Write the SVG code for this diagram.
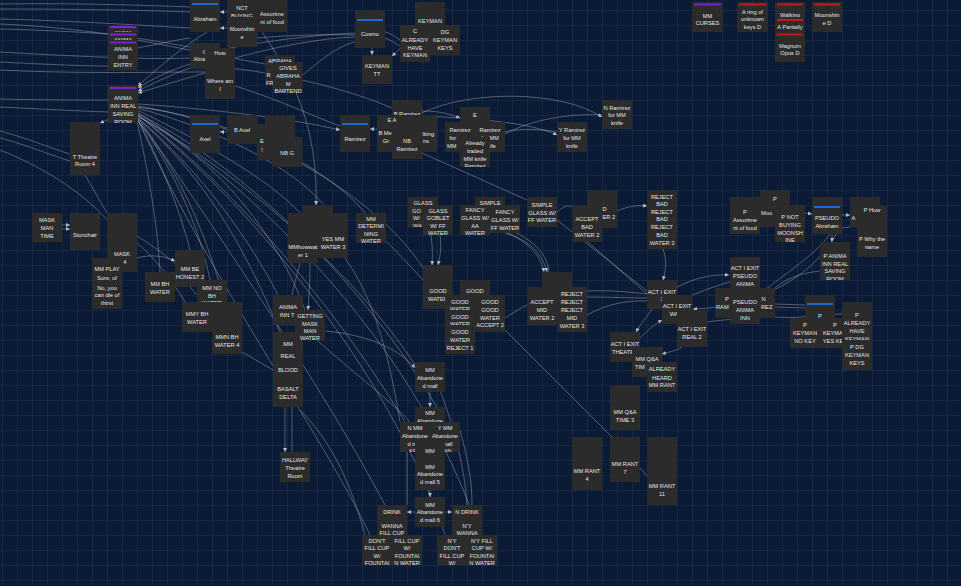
<svg xmlns="http://www.w3.org/2000/svg" width="961" height="586" viewBox="0 0 961 586">
<style>
.n{fill:#2b2b2b}
.t{font-family:"Liberation Sans","Open Sans",sans-serif;font-size:5.7px;fill:#e4e4e4;text-anchor:middle}
.s{text-anchor:start}
.bb{fill:#1e6ad2}
.bp{fill:#7a22cc}
.br{fill:#c8161d}
.c{fill:none;stroke:#b5bac4;stroke-opacity:.55;stroke-width:.75}
.a{marker-end:url(#ar)}
</style>
<defs>
<pattern id="grid" x="2" y="10" width="15" height="15" patternUnits="userSpaceOnUse"><path d="M0 0.3H15M0.3 0V15" fill="none" stroke="#1b3058" stroke-width="0.6"/></pattern>
<marker id="ar" viewBox="0 0 6 6" refX="6" refY="3" markerWidth="4" markerHeight="4" orient="auto" markerUnits="userSpaceOnUse"><path d="M0 0L6 3L0 6z" fill="#b5bac4"/></marker>
</defs>
<rect width="961" height="586" fill="#0b1a35"/>
<rect width="961" height="586" fill="url(#grid)"/>
<g id="connectors">
<path class="c" d="M0 4 C70 3 140 5 190 7"/>
<path class="c" d="M0 9 C70 9 140 10 190 12"/>
<path class="c" d="M0 19 C80 21 150 26 190 28"/>
<path class="c" d="M0 24 C70 27 140 38 190 47"/>
<path class="c" d="M0 29 C40 30 80 32 108 34"/>
<path class="c" d="M0 52 C70 56 150 60 190 58"/>
<path class="c" d="M0 62 C40 64 80 66 108 66"/>
<path class="c" d="M0 70 C80 74 160 72 205 72"/>
<path class="c" d="M0 99 C40 100 80 100 108 100"/>
<path class="c" d="M0 107 C40 109 80 111 108 112"/>
<path class="c" d="M0 131 C30 139 50 148 70 154"/>
<path class="c" d="M0 138 C30 146 50 155 70 161"/>
<path class="c" d="M0 150 C50 170 85 195 110 223"/>
<path class="c" d="M85 175 L107 213"/>
<path class="c" d="M137 48 C160 44 175 40 190 38"/>
<path class="c" d="M137 40 C180 48 230 58 265 64"/>
<path class="c a" d="M190 64 C170 70 150 80 138 88"/>
<path class="c a" d="M190 68 C170 75 152 84 138 91"/>
<path class="c a" d="M205 73 C180 80 155 88 138 93"/>
<path class="c a" d="M207 32 C185 45 155 70 138 86"/>
<path class="c a" d="M112 118 L100 123"/>
<path class="c" d="M220 50 C260 42 310 35 355 33"/>
<path class="c" d="M235 58 C270 48 320 38 355 37"/>
<path class="c" d="M257 38 C290 35 330 34 355 35"/>
<path class="c" d="M303 75 C320 60 340 45 355 42"/>
<path class="c" d="M385 32 C392 34 396 37 400 40"/>
<path class="c" d="M385 38 C392 41 396 44 400 46"/>
<path class="c a" d="M372 48 L372 55"/>
<path class="c a" d="M402 47 L392 56"/>
<path class="c a" d="M227 12 L220 12"/>
<path class="c a" d="M227 28 L220 28"/>
<path class="c a" d="M227 132 L220 132"/>
<path class="c" d="M235 86 C280 100 310 115 340 126"/>
<path class="c a" d="M138 104 C200 108 290 118 340 130"/>
<path class="c" d="M230 68 C290 75 350 90 392 108"/>
<path class="c" d="M422 153 C460 170 500 188 527 200"/>
<path class="c a" d="M377 129 L370 129"/>
<path class="c a" d="M422 111 C440 111 450 114 460 118"/>
<path class="c a" d="M422 113 C470 90 560 90 602 117"/>
<path class="c a" d="M422 116 C470 118 530 122 557 135"/>
<path class="c" d="M505 134 C530 120 570 113 602 115"/>
<path class="c" d="M505 132 C520 128 540 129 557 132"/>
<path class="c a" d="M262 32 C295 80 318 130 316 205"/>
<path class="c" d="M137 110 C200 140 270 180 300 213"/>
<path class="c" d="M137 108 C220 130 300 170 330 213"/>
<path class="c" d="M137 107 C240 120 330 170 365 213"/>
<path class="c" d="M137 106 C260 125 380 200 423 268"/>
<path class="c" d="M137 118 C160 160 180 210 190 250"/>
<path class="c" d="M137 119 C175 170 200 230 210 280"/>
<path class="c" d="M137 120 C185 175 210 250 225 302"/>
<path class="c" d="M137 117 C200 170 250 240 278 295"/>
<path class="c" d="M137 118 C210 180 250 260 280 332"/>
<path class="c" d="M137 116 C220 160 280 240 305 310"/>
<path class="c" d="M137 115 C250 180 360 280 415 365"/>
<path class="c" d="M137 114 C250 200 350 330 405 422"/>
<path class="c" d="M137 113 C270 180 390 320 445 422"/>
<path class="c" d="M137 116 C230 250 330 400 385 505"/>
<path class="c" d="M137 118 C210 280 320 430 370 535"/>
<path class="c" d="M137 114 C280 230 400 400 445 535"/>
<path class="c" d="M137 112 C300 220 430 380 480 535"/>
<path class="c" d="M137 121 C150 180 158 230 160 272"/>
<path class="c a" d="M62 225 L70 225"/>
<path class="c a" d="M62 229 L70 229"/>
<path class="c a" d="M137 258 C150 254 165 256 175 261"/>
<path class="c" d="M137 236 C160 250 185 270 197 285"/>
<path class="c" d="M137 243 C155 258 172 280 185 302"/>
<path class="c" d="M190 287 L198 296"/>
<path class="c" d="M242 352 L273 370"/>
<path class="c" d="M300 263 C297 275 294 285 292 295"/>
<path class="c a" d="M310 263 C310 280 309 295 308 310"/>
<path class="c a" d="M325 331 C370 335 400 350 415 368"/>
<path class="c a" d="M285 407 L285 452"/>
<path class="c" d="M292 407 L292 452"/>
<path class="c" d="M345 258 C375 300 390 360 400 422"/>
<path class="c" d="M317 340 C350 370 390 400 410 422"/>
<path class="c" d="M300 410 C330 440 350 480 365 535"/>
<path class="c a" d="M430 392 L430 407"/>
<path class="c a" d="M430 490 L430 497"/>
<path class="c a" d="M415 512 L407 512"/>
<path class="c a" d="M445 512 L452 512"/>
<path class="c" d="M407 452 L407 505"/>
<path class="c" d="M460 430 C468 460 472 480 472 505"/>
<path class="c" d="M440 390 C455 430 465 470 467 505"/>
<path class="c a" d="M430 227 C432 240 433 252 432 265"/>
<path class="c a" d="M440 235 C442 248 440 256 438 265"/>
<path class="c" d="M385 240 C400 255 412 268 423 280"/>
<path class="c a" d="M490 226 C520 236 540 250 544 272"/>
<path class="c a" d="M505 233 C530 240 543 255 547 272"/>
<path class="c" d="M512 231 C535 241 548 256 549 272"/>
<path class="c" d="M557 212 C564 206 568 205 572 207"/>
<path class="c" d="M557 220 L647 291"/>
<path class="c" d="M588 242 L647 294"/>
<path class="c a" d="M617 211 C628 206 638 205 647 206"/>
<path class="c a" d="M663 249 C667 260 666 270 663 280"/>
<path class="c" d="M587 291 C610 290 630 292 647 294"/>
<path class="c" d="M587 297 C610 297 630 298 647 298"/>
<path class="c" d="M587 315 C605 305 625 300 647 301"/>
<path class="c" d="M505 318 C515 312 520 308 527 305"/>
<path class="c" d="M505 330 L612 437"/>
<path class="c" d="M640 468 L647 476"/>
<path class="c a" d="M677 287 C695 278 712 274 729 275"/>
<path class="c" d="M690 296 C705 290 718 285 730 282"/>
<path class="c a" d="M730 306 C715 307 702 309 693 309"/>
<path class="c" d="M760 318 C740 318 722 320 707 322"/>
<path class="c a" d="M652 309 C646 318 640 325 636 332"/>
<path class="c a" d="M640 338 C648 330 655 324 662 320"/>
<path class="c a" d="M682 347 C676 351 669 352 662 354"/>
<path class="c" d="M820 271 C800 273 782 280 773 290"/>
<path class="c" d="M830 234 C815 255 790 270 765 290"/>
<path class="c" d="M836 234 C822 260 797 280 769 292"/>
<path class="c a" d="M832 234 L832 242"/>
<path class="c a" d="M805 213 L812 214"/>
<path class="c a" d="M842 215 L850 215"/>
<path class="c" d="M857 226 L842 228"/>
<path class="c" d="M775 304 L805 305"/>
<path class="c" d="M775 307 L805 308"/>
<path class="c" d="M775 317 C800 319 820 314 842 314"/>
</g>
<g id="n-abraham"><svg x="190" y="-6" width="30" height="38" viewBox="190 -6 30 38"><rect class="n" x="190" y="-6" width="30" height="38"/><rect class="bb" x="192" y="3" width="26" height="2"/><text class="t" x="205" y="21">Abraham</text></svg></g>
<g id="n-nct"><svg x="227" y="-13" width="30" height="30" viewBox="227 -13 30 30"><rect class="n" x="227" y="-13" width="30" height="30"/><text class="t" x="242" y="10">NCT</text><text class="t" x="242" y="18">BUYING</text></svg></g>
<g id="n-moonshine"><svg x="227" y="17" width="30" height="30" viewBox="227 17 30 30"><rect class="n" x="227" y="17" width="30" height="30"/><text class="t" x="242" y="31">Moonshin</text><text class="t" x="242" y="39">e</text></svg></g>
<g id="n-assort"><svg x="257" y="-6" width="30" height="38" viewBox="257 -6 30 38"><rect class="n" x="257" y="-6" width="30" height="38"/><text class="t" x="272" y="16">Assortme</text><text class="t" x="272" y="24">nt of food</text></svg></g>
<g id="n-ae1"><svg x="108" y="25" width="30" height="30" viewBox="108 25 30 30"><rect class="n" x="108" y="25" width="30" height="30"/><rect class="bp" x="110" y="26" width="26" height="2"/><text class="t" x="123" y="35">ANIMA</text></svg></g>
<g id="n-ae2"><svg x="108" y="32" width="30" height="30" viewBox="108 32 30 30"><rect class="n" x="108" y="32" width="30" height="30"/><rect class="bp" x="110" y="33.5" width="26" height="2"/><text class="t" x="123" y="42">ANIMA</text></svg></g>
<g id="n-ae3"><svg x="108" y="40" width="30" height="30" viewBox="108 40 30 30"><rect class="n" x="108" y="40" width="30" height="30"/><rect class="bp" x="110" y="41.5" width="26" height="2"/><text class="t" x="123" y="51">ANIMA</text><text class="t" x="123" y="59">INN</text><text class="t" x="123" y="67">ENTRY</text></svg></g>
<g id="n-anima-real"><svg x="108" y="85" width="30" height="38" viewBox="108 85 30 38"><rect class="n" x="108" y="85" width="30" height="38"/><rect class="bp" x="110" y="87" width="26" height="2"/><text class="t" x="123" y="100">ANIMA</text><text class="t" x="123" y="108">INN REAL</text><text class="t" x="123" y="116">SAVING</text><text class="t" x="123" y="124">ROOM</text></svg></g>
<g id="n-ttheatre"><svg x="70" y="122" width="30" height="53" viewBox="70 122 30 53"><rect class="n" x="70" y="122" width="30" height="53"/><text class="t" x="85" y="159">T Theatre</text><text class="t" x="85" y="166">Room 4</text></svg></g>
<g id="n-cabra"><svg x="190" y="43" width="30" height="26" viewBox="190 43 30 26"><rect class="n" x="190" y="43" width="30" height="26"/><text class="t" x="205" y="54">C</text><text class="t" x="205" y="61">Abraham</text></svg></g>
<g id="n-how"><svg x="205" y="48" width="30" height="30" viewBox="205 48 30 30"><rect class="n" x="205" y="48" width="30" height="30"/><text class="t" x="220" y="55">How</text></svg></g>
<g id="n-where"><svg x="205" y="63" width="30" height="36" viewBox="205 63 30 36"><rect class="n" x="205" y="63" width="30" height="36"/><text class="t" x="220" y="83">Where am</text><text class="t" x="220" y="91">I</text></svg></g>
<g id="n-abrahar"><svg x="265" y="55" width="30" height="30" viewBox="265 55 30 30"><rect class="n" x="265" y="55" width="30" height="30"/><text class="t" x="280" y="63">ABRAHA</text><text class="t s" x="266.5" y="77">R</text><text class="t s" x="266" y="85">FR</text></svg></g>
<g id="n-gives"><svg x="273" y="62" width="30" height="31" viewBox="273 62 30 31"><rect class="n" x="273" y="62" width="30" height="31"/><text class="t" x="288" y="70">GIVES</text><text class="t" x="288" y="78">ABRAHA</text><text class="t" x="288" y="86">M</text><text class="t" x="288" y="93">BARTEND</text></svg></g>
<g id="n-axel"><svg x="190" y="115" width="30" height="38" viewBox="190 115 30 38"><rect class="n" x="190" y="115" width="30" height="38"/><rect class="bb" x="192" y="123" width="26" height="2"/><text class="t" x="205" y="141">Axel</text></svg></g>
<g id="n-baxel"><svg x="227" y="115" width="30" height="29" viewBox="227 115 30 29"><rect class="n" x="227" y="115" width="30" height="29"/><text class="t" x="242" y="132">B Axel</text></svg></g>
<g id="n-hid1"><svg x="265" y="115" width="30" height="30" viewBox="265 115 30 30"><rect class="n" x="265" y="115" width="30" height="30"/></svg></g>
<g id="n-e1"><svg x="257" y="124" width="30" height="36" viewBox="257 124 30 36"><rect class="n" x="257" y="124" width="30" height="36"/><text class="t" x="262" y="143">E</text><text class="t" x="262" y="152">!</text></svg></g>
<g id="n-nbg"><svg x="272" y="137" width="30" height="30" viewBox="272 137 30 30"><rect class="n" x="272" y="137" width="30" height="30"/><text class="t" x="287" y="155">NB G</text></svg></g>
<g id="n-cosmo"><svg x="355" y="10" width="30" height="38" viewBox="355 10 30 38"><rect class="n" x="355" y="10" width="30" height="38"/><rect class="bb" x="357" y="19" width="26" height="2"/><text class="t" x="370" y="36">Cosmo</text></svg></g>
<g id="n-keyman"><svg x="415" y="2" width="30" height="30" viewBox="415 2 30 30"><rect class="n" x="415" y="2" width="30" height="30"/><text class="t" x="430" y="23">KEYMAN</text></svg></g>
<g id="n-calready"><svg x="400" y="25" width="30" height="37" viewBox="400 25 30 37"><rect class="n" x="400" y="25" width="30" height="37"/><text class="t" x="415" y="33">C</text><text class="t" x="415" y="42">ALREADY</text><text class="t" x="415" y="50">HAVE</text><text class="t" x="415" y="57">KEYMAN</text></svg></g>
<g id="n-dg"><svg x="430" y="25" width="30" height="30" viewBox="430 25 30 30"><rect class="n" x="430" y="25" width="30" height="30"/><text class="t" x="445" y="34">DG</text><text class="t" x="445" y="42">KEYMAN</text><text class="t" x="445" y="50">KEYS</text></svg></g>
<g id="n-keymantt"><svg x="362" y="55" width="30" height="29" viewBox="362 55 30 29"><rect class="n" x="362" y="55" width="30" height="29"/><text class="t" x="377" y="68">KEYMAN</text><text class="t" x="377" y="76">TT</text></svg></g>
<g id="n-ramirez"><svg x="340" y="115" width="30" height="37" viewBox="340 115 30 37"><rect class="n" x="340" y="115" width="30" height="37"/><rect class="bb" x="342" y="123" width="26" height="2"/><text class="t" x="355" y="141">Ramirez</text></svg></g>
<g id="n-bramirez"><svg x="392" y="100" width="30" height="30" viewBox="392 100 30 30"><rect class="n" x="392" y="100" width="30" height="30"/><text class="t" x="407" y="116">B Ramirez</text></svg></g>
<g id="n-ea"><svg x="377" y="115" width="30" height="37" viewBox="377 115 30 37"><rect class="n" x="377" y="115" width="30" height="37"/><text class="t" x="392" y="122">E A</text><text class="t s" x="378.5" y="135">B Me</text><text class="t" x="386" y="143">Gr</text></svg></g>
<g id="n-walk"><svg x="407" y="115" width="30" height="37" viewBox="407 115 30 37"><rect class="n" x="407" y="115" width="30" height="37"/><text class="t s" x="422.5" y="136">lking</text><text class="t s" x="423" y="143">ns</text></svg></g>
<g id="n-nbramirez"><svg x="392" y="128" width="30" height="31" viewBox="392 128 30 31"><rect class="n" x="392" y="128" width="30" height="31"/><text class="t" x="407" y="143">NB</text><text class="t" x="407" y="151">Ramirez</text></svg></g>
<g id="n-e2"><svg x="460" y="107" width="30" height="30" viewBox="460 107 30 30"><rect class="n" x="460" y="107" width="30" height="30"/><text class="t" x="475" y="117">E</text></svg></g>
<g id="n-rfm1"><svg x="445" y="122" width="30" height="30" viewBox="445 122 30 30"><rect class="n" x="445" y="122" width="30" height="30"/><text class="t" x="460" y="132">Ramirez</text><text class="t s" x="449.5" y="140">for</text><text class="t s" x="447" y="148">MM</text></svg></g>
<g id="n-rfm2"><svg x="475" y="122" width="30" height="30" viewBox="475 122 30 30"><rect class="n" x="475" y="122" width="30" height="30"/><text class="t" x="490" y="132">Ramirez</text><text class="t" x="490" y="140">for MM</text><text class="t" x="490" y="148">knife</text></svg></g>
<g id="n-already"><svg x="460" y="137" width="30" height="30" viewBox="460 137 30 30"><rect class="n" x="460" y="137" width="30" height="30"/><text class="t" x="475" y="145">Already</text><text class="t" x="475" y="153">traded</text><text class="t" x="475" y="161">MM knife</text><text class="t" x="475" y="168">Ramirez</text></svg></g>
<g id="n-yram"><svg x="557" y="122" width="30" height="30" viewBox="557 122 30 30"><rect class="n" x="557" y="122" width="30" height="30"/><text class="t" x="572" y="132">Y Ramirez</text><text class="t" x="572" y="140">for MM</text><text class="t" x="572" y="148">knife</text></svg></g>
<g id="n-nram"><svg x="602" y="100" width="30" height="29" viewBox="602 100 30 29"><rect class="n" x="602" y="100" width="30" height="29"/><text class="t" x="617" y="110">N Ramirez</text><text class="t" x="617" y="117">for MM</text><text class="t" x="617" y="125">knife</text></svg></g>
<g id="n-mmcurses"><svg x="692" y="2" width="31" height="30" viewBox="692 2 31 30"><rect class="n" x="692" y="2" width="31" height="30"/><rect class="bp" x="694" y="3.5" width="27" height="2"/><text class="t" x="707.5" y="18">MM</text><text class="t" x="707.5" y="25">CURSES</text></svg></g>
<g id="n-ring"><svg x="737" y="2" width="31" height="30" viewBox="737 2 31 30"><rect class="n" x="737" y="2" width="31" height="30"/><rect class="br" x="739" y="3.5" width="27" height="2"/><text class="t" x="752.5" y="14">A ring of</text><text class="t" x="752.5" y="21">unknown</text><text class="t" x="752.5" y="29">keys D</text></svg></g>
<g id="n-walkingd"><svg x="775" y="2" width="30" height="30" viewBox="775 2 30 30"><rect class="n" x="775" y="2" width="30" height="30"/><rect class="br" x="777" y="3.5" width="26" height="2"/><text class="t" x="790" y="17">Walking</text></svg></g>
<g id="n-partial"><svg x="775" y="17" width="30" height="30" viewBox="775 17 30 30"><rect class="n" x="775" y="17" width="30" height="30"/><rect class="br" x="777" y="19" width="26" height="2"/><text class="t" x="790" y="29">A Partially</text></svg></g>
<g id="n-magnum"><svg x="775" y="32" width="30" height="30" viewBox="775 32 30 30"><rect class="n" x="775" y="32" width="30" height="30"/><rect class="br" x="777" y="33.5" width="26" height="2"/><text class="t" x="790" y="48">Magnum</text><text class="t" x="790" y="55">Opus D</text></svg></g>
<g id="n-moond"><svg x="812" y="2" width="30" height="30" viewBox="812 2 30 30"><rect class="n" x="812" y="2" width="30" height="30"/><rect class="br" x="814" y="3.5" width="26" height="2"/><text class="t" x="827" y="17">Moonshin</text><text class="t" x="827" y="25">e D</text></svg></g>
<g id="n-maskmantime"><svg x="32" y="213" width="30" height="29" viewBox="32 213 30 29"><rect class="n" x="32" y="213" width="30" height="29"/><text class="t" x="47" y="222">MASK</text><text class="t" x="47" y="230">MAN</text><text class="t" x="47" y="238">TIME</text></svg></g>
<g id="n-stonchair"><svg x="70" y="213" width="30" height="37" viewBox="70 213 30 37"><rect class="n" x="70" y="213" width="30" height="37"/><text class="t" x="85" y="237">Stonchair</text></svg></g>
<g id="n-maskn4"><svg x="107" y="213" width="30" height="59" viewBox="107 213 30 59"><rect class="n" x="107" y="213" width="30" height="59"/><text class="t" x="122" y="256">MASK</text><text class="t" x="122" y="264">N 4</text></svg></g>
<g id="n-mmplay"><svg x="92" y="258" width="30" height="51" viewBox="92 258 30 51"><rect class="n" x="92" y="258" width="30" height="51"/><text class="t" x="107" y="271">MM PLAY</text><text class="t" x="107" y="280">Sure, of</text><text class="t" x="107" y="290">No, you</text><text class="t" x="107" y="297">can die of</text><text class="t" x="107" y="305">thirst</text></svg></g>
<g id="n-mmbe2"><svg x="175" y="250" width="30" height="37" viewBox="175 250 30 37"><rect class="n" x="175" y="250" width="30" height="37"/><text class="t" x="190" y="271">MM BE</text><text class="t" x="190" y="279">HONEST 2</text></svg></g>
<g id="n-mmbh"><svg x="145" y="272" width="30" height="30" viewBox="145 272 30 30"><rect class="n" x="145" y="272" width="30" height="30"/><text class="t" x="160" y="286">MM BH</text><text class="t" x="160" y="294">WATER</text></svg></g>
<g id="n-mmnobh"><svg x="197" y="280" width="30" height="30" viewBox="197 280 30 30"><rect class="n" x="197" y="280" width="30" height="30"/><text class="t" x="212" y="290">MM NO</text><text class="t" x="212" y="298">BH</text><text class="t" x="212" y="305">WATER</text></svg></g>
<g id="n-mmybh"><svg x="182" y="302" width="30" height="30" viewBox="182 302 30 30"><rect class="n" x="182" y="302" width="30" height="30"/><text class="t" x="197" y="316">MMY BH</text><text class="t" x="197" y="324">WATER</text></svg></g>
<g id="n-mmnbh4"><svg x="212" y="302" width="30" height="52" viewBox="212 302 30 52"><rect class="n" x="212" y="302" width="30" height="52"/><text class="t" x="227" y="339">MMN BH</text><text class="t" x="227" y="347">WATER 4</text></svg></g>
<g id="n-mmhowb"><svg x="303" y="205" width="30" height="50" viewBox="303 205 30 50"><rect class="n" x="303" y="205" width="30" height="50"/></svg></g>
<g id="n-mmhow"><svg x="288" y="213" width="30" height="50" viewBox="288 213 30 50"><rect class="n" x="288" y="213" width="30" height="50"/><text class="t" x="303" y="249">MMhowwat</text><text class="t" x="303" y="257">er 1</text></svg></g>
<g id="n-yesmm"><svg x="318" y="213" width="30" height="45" viewBox="318 213 30 45"><rect class="n" x="318" y="213" width="30" height="45"/><text class="t" x="333" y="241">YES MM</text><text class="t" x="333" y="249">WATER 3</text></svg></g>
<g id="n-mmdet"><svg x="356" y="213" width="30" height="30" viewBox="356 213 30 30"><rect class="n" x="356" y="213" width="30" height="30"/><text class="t" x="371" y="221">MM</text><text class="t" x="371" y="228">DETERMI</text><text class="t" x="371" y="236">NING</text><text class="t" x="371" y="243">WATER</text></svg></g>
<g id="n-glassgo"><svg x="408" y="197" width="30" height="30" viewBox="408 197 30 30"><rect class="n" x="408" y="197" width="30" height="30"/><text class="t" x="423" y="205">GLASS</text><text class="t s" x="412" y="213">GO</text><text class="t s" x="413" y="220">W/</text><text class="t s" x="413" y="228">WA</text></svg></g>
<g id="n-glassgob"><svg x="423" y="205" width="30" height="30" viewBox="423 205 30 30"><rect class="n" x="423" y="205" width="30" height="30"/><text class="t" x="438" y="213">GLASS</text><text class="t" x="438" y="220">GOBLET</text><text class="t" x="438" y="228">W/ FF</text><text class="t" x="438" y="235">WATER</text></svg></g>
<g id="n-simpletop"><svg x="475" y="197" width="30" height="30" viewBox="475 197 30 30"><rect class="n" x="475" y="197" width="30" height="30"/><text class="t" x="490" y="205">SIMPLE</text></svg></g>
<g id="n-fancyaa"><svg x="460" y="205" width="30" height="30" viewBox="460 205 30 30"><rect class="n" x="460" y="205" width="30" height="30"/><text class="t" x="475" y="212">FANCY</text><text class="t" x="475" y="220">GLASS W/</text><text class="t" x="475" y="228">AA</text><text class="t" x="475" y="235">WATER</text></svg></g>
<g id="n-fancyff"><svg x="490" y="205" width="30" height="28" viewBox="490 205 30 28"><rect class="n" x="490" y="205" width="30" height="28"/><text class="t" x="505" y="214">FANCY</text><text class="t" x="505" y="222">GLASS W/</text><text class="t" x="505" y="230">FF WATER</text></svg></g>
<g id="n-simpleff"><svg x="527" y="197" width="30" height="30" viewBox="527 197 30 30"><rect class="n" x="527" y="197" width="30" height="30"/><text class="t" x="542" y="207">SIMPLE</text><text class="t" x="542" y="215">GLASS W/</text><text class="t" x="542" y="222">FF WATER</text></svg></g>
<g id="n-abadb"><svg x="587" y="190" width="30" height="38" viewBox="587 190 30 38"><rect class="n" x="587" y="190" width="30" height="38"/><text class="t s" x="602.5" y="211">D</text><text class="t s" x="602.5" y="219">ER 2</text></svg></g>
<g id="n-abad2"><svg x="572" y="205" width="30" height="37" viewBox="572 205 30 37"><rect class="n" x="572" y="205" width="30" height="37"/><text class="t" x="587" y="221">ACCEPT</text><text class="t" x="587" y="229">BAD</text><text class="t" x="587" y="237">WATER 2</text></svg></g>
<g id="n-rbad3"><svg x="647" y="190" width="30" height="59" viewBox="647 190 30 59"><rect class="n" x="647" y="190" width="30" height="59"/><text class="t" x="662" y="199">REJECT</text><text class="t" x="662" y="206">BAD</text><text class="t" x="662" y="214">REJECT</text><text class="t" x="662" y="221">BAD</text><text class="t" x="662" y="229">REJECT</text><text class="t" x="662" y="237">BAD</text><text class="t" x="662" y="245">WATER 3</text></svg></g>
<g id="n-gw"><svg x="423" y="265" width="30" height="44" viewBox="423 265 30 44"><rect class="n" x="423" y="265" width="30" height="44"/><text class="t" x="438" y="293">GOOD</text><text class="t" x="438" y="301">WATER</text></svg></g>
<g id="n-goodb"><svg x="460" y="280" width="30" height="30" viewBox="460 280 30 30"><rect class="n" x="460" y="280" width="30" height="30"/><text class="t" x="475" y="293">GOOD</text></svg></g>
<g id="n-gs1"><svg x="445" y="295" width="30" height="30" viewBox="445 295 30 30"><rect class="n" x="445" y="295" width="30" height="30"/><text class="t" x="460" y="304">GOOD</text><text class="t" x="460" y="311">WATER</text></svg></g>
<g id="n-gs2"><svg x="445" y="310" width="30" height="30" viewBox="445 310 30 30"><rect class="n" x="445" y="310" width="30" height="30"/><text class="t" x="460" y="319">GOOD</text><text class="t" x="460" y="326">WATER</text></svg></g>
<g id="n-gs3"><svg x="445" y="325" width="30" height="29" viewBox="445 325 30 29"><rect class="n" x="445" y="325" width="30" height="29"/><text class="t" x="460" y="334">GOOD</text><text class="t" x="460" y="342">WATER</text><text class="t" x="460" y="350">REJECT 1</text></svg></g>
<g id="n-ga2"><svg x="475" y="295" width="30" height="37" viewBox="475 295 30 37"><rect class="n" x="475" y="295" width="30" height="37"/><text class="t" x="490" y="304">GOOD</text><text class="t" x="490" y="312">GOOD</text><text class="t" x="490" y="320">WATER</text><text class="t" x="490" y="327">ACCEPT 2</text></svg></g>
<g id="n-amidtop"><svg x="542" y="272" width="30" height="30" viewBox="542 272 30 30"><rect class="n" x="542" y="272" width="30" height="30"/></svg></g>
<g id="n-amid2"><svg x="527" y="287" width="30" height="38" viewBox="527 287 30 38"><rect class="n" x="527" y="287" width="30" height="38"/><text class="t" x="542" y="304">ACCEPT</text><text class="t" x="542" y="312">MID</text><text class="t" x="542" y="320">WATER 2</text></svg></g>
<g id="n-rmid3"><svg x="557" y="287" width="30" height="45" viewBox="557 287 30 45"><rect class="n" x="557" y="287" width="30" height="45"/><text class="t" x="572" y="296">REJECT</text><text class="t" x="572" y="304">REJECT</text><text class="t" x="572" y="312">REJECT</text><text class="t" x="572" y="320">MID</text><text class="t" x="572" y="328">WATER 3</text></svg></g>
<g id="n-passort"><svg x="730" y="197" width="30" height="37" viewBox="730 197 30 37"><rect class="n" x="730" y="197" width="30" height="37"/><text class="t" x="745" y="214">P</text><text class="t" x="745" y="222">Assortme</text><text class="t" x="745" y="230">nt of food</text></svg></g>
<g id="n-pmoo"><svg x="760" y="190" width="30" height="37" viewBox="760 190 30 37"><rect class="n" x="760" y="190" width="30" height="37"/><text class="t" x="775" y="201">P</text><text class="t s" x="761" y="215">Moo</text></svg></g>
<g id="n-pnot"><svg x="775" y="205" width="30" height="37" viewBox="775 205 30 37"><rect class="n" x="775" y="205" width="30" height="37"/><text class="t" x="790" y="219">P NOT</text><text class="t" x="790" y="227">BUYING</text><text class="t" x="790" y="235">MOONSH</text><text class="t" x="790" y="242">INE</text></svg></g>
<g id="n-pseudoab"><svg x="812" y="197" width="30" height="37" viewBox="812 197 30 37"><rect class="n" x="812" y="197" width="30" height="37"/><rect class="bb" x="814" y="206" width="26" height="2"/><text class="t" x="827" y="220">PSEUDO</text><text class="t" x="827" y="228">Abraham</text></svg></g>
<g id="n-a"><svg x="850" y="197" width="30" height="30" viewBox="850 197 30 30"><rect class="n" x="850" y="197" width="30" height="30"/><text class="t s" x="851.5" y="220">A</text></svg></g>
<g id="n-phow"><svg x="857" y="205" width="30" height="22" viewBox="857 205 30 22"><rect class="n" x="857" y="205" width="30" height="22"/><text class="t" x="872" y="212">P How</text></svg></g>
<g id="n-pwhy"><svg x="857" y="227" width="30" height="30" viewBox="857 227 30 30"><rect class="n" x="857" y="227" width="30" height="30"/><text class="t" x="872" y="241">P Why the</text><text class="t" x="872" y="249">name</text></svg></g>
<g id="n-panima"><svg x="820" y="242" width="30" height="38" viewBox="820 242 30 38"><rect class="n" x="820" y="242" width="30" height="38"/><text class="t" x="835" y="258">P ANIMA</text><text class="t" x="835" y="266">INN REAL</text><text class="t" x="835" y="273">SAVING</text><text class="t" x="835" y="281">ROOM</text></svg></g>
<g id="n-a1pseudo"><svg x="730" y="257" width="30" height="31" viewBox="730 257 30 31"><rect class="n" x="730" y="257" width="30" height="31"/><text class="t" x="745" y="270">ACT I EXIT</text><text class="t" x="745" y="278">PSEUDO</text><text class="t" x="745" y="286">ANIMA</text></svg></g>
<g id="n-pram"><svg x="715" y="288" width="30" height="30" viewBox="715 288 30 30"><rect class="n" x="715" y="288" width="30" height="30"/><text class="t" x="727" y="301">P</text><text class="t s" x="716" y="309">RAM</text></svg></g>
<g id="n-nrez"><svg x="745" y="288" width="30" height="30" viewBox="745 288 30 30"><rect class="n" x="745" y="288" width="30" height="30"/><text class="t s" x="761.5" y="301">N</text><text class="t s" x="761" y="309">REZ</text></svg></g>
<g id="n-pinn"><svg x="730" y="288" width="30" height="36" viewBox="730 288 30 36"><rect class="n" x="730" y="288" width="30" height="36"/><text class="t" x="745" y="304">PSEUDO</text><text class="t" x="745" y="312">ANIMA</text><text class="t" x="745" y="320">INN</text></svg></g>
<g id="n-a1e1"><svg x="647" y="280" width="30" height="29" viewBox="647 280 30 29"><rect class="n" x="647" y="280" width="30" height="29"/><text class="t" x="662" y="294">ACT I EXIT</text><text class="t" x="662" y="301">1</text></svg></g>
<g id="n-a1wari"><svg x="662" y="295" width="30" height="29" viewBox="662 295 30 29"><rect class="n" x="662" y="295" width="30" height="29"/><text class="t" x="677" y="308">ACT I EXIT</text><text class="t" x="677" y="316">WARI</text></svg></g>
<g id="n-a1real2"><svg x="677" y="310" width="30" height="37" viewBox="677 310 30 37"><rect class="n" x="677" y="310" width="30" height="37"/><text class="t" x="692" y="331">ACT I EXIT</text><text class="t" x="692" y="339">REAL 2</text></svg></g>
<g id="n-a1theatr"><svg x="610" y="332" width="30" height="30" viewBox="610 332 30 30"><rect class="n" x="610" y="332" width="30" height="30"/><text class="t" x="625" y="346">ACT I EXIT</text><text class="t" x="625" y="354">THEATRE</text></svg></g>
<g id="n-mmqa"><svg x="632" y="347" width="30" height="30" viewBox="632 347 30 30"><rect class="n" x="632" y="347" width="30" height="30"/><text class="t" x="647" y="361">MM Q&amp;A</text><text class="t s" x="635" y="369">TIM</text></svg></g>
<g id="n-alreadyheard"><svg x="647" y="362" width="30" height="30" viewBox="647 362 30 30"><rect class="n" x="647" y="362" width="30" height="30"/><text class="t" x="662" y="371">ALREADY</text><text class="t" x="662" y="380">HEARD</text><text class="t" x="662" y="387">MM RANT</text></svg></g>
<g id="n-mmqa3"><svg x="610" y="385" width="30" height="45" viewBox="610 385 30 45"><rect class="n" x="610" y="385" width="30" height="45"/><text class="t" x="625" y="414">MM Q&amp;A</text><text class="t" x="625" y="422">TIME 3</text></svg></g>
<g id="n-rant4"><svg x="572" y="437" width="30" height="53" viewBox="572 437 30 53"><rect class="n" x="572" y="437" width="30" height="53"/><text class="t" x="587" y="473">MM RANT</text><text class="t" x="587" y="481">4</text></svg></g>
<g id="n-rant7"><svg x="610" y="437" width="30" height="45" viewBox="610 437 30 45"><rect class="n" x="610" y="437" width="30" height="45"/><text class="t" x="625" y="466">MM RANT</text><text class="t" x="625" y="474">7</text></svg></g>
<g id="n-rant11"><svg x="647" y="437" width="30" height="68" viewBox="647 437 30 68"><rect class="n" x="647" y="437" width="30" height="68"/><text class="t" x="662" y="488">MM RANT</text><text class="t" x="662" y="496">11</text></svg></g>
<g id="n-pblue"><svg x="805" y="295" width="30" height="30" viewBox="805 295 30 30"><rect class="n" x="805" y="295" width="30" height="30"/><rect class="bb" x="807" y="303" width="26" height="2"/><text class="t" x="820" y="318">P</text></svg></g>
<g id="n-pkno"><svg x="790" y="318" width="30" height="30" viewBox="790 318 30 30"><rect class="n" x="790" y="318" width="30" height="30"/><text class="t" x="805" y="327">P</text><text class="t" x="805" y="335">KEYMAN</text><text class="t" x="805" y="343">NO KEY</text></svg></g>
<g id="n-pkyes"><svg x="820" y="318" width="30" height="30" viewBox="820 318 30 30"><rect class="n" x="820" y="318" width="30" height="30"/><text class="t" x="835" y="327">P</text><text class="t" x="835" y="335">KEYMAN</text><text class="t" x="835" y="343">YES KEY</text></svg></g>
<g id="n-palready"><svg x="842" y="302" width="30" height="38" viewBox="842 302 30 38"><rect class="n" x="842" y="302" width="30" height="38"/><text class="t" x="857" y="317">P</text><text class="t" x="857" y="325">ALREADY</text><text class="t" x="857" y="333">HAVE</text><text class="t" x="857" y="341">KEYMAN</text></svg></g>
<g id="n-pdg"><svg x="842" y="340" width="30" height="30" viewBox="842 340 30 30"><rect class="n" x="842" y="340" width="30" height="30"/><text class="t" x="857" y="349">P DG</text><text class="t" x="857" y="357">KEYMAN</text><text class="t" x="857" y="365">KEYS</text></svg></g>
<g id="n-animainnt"><svg x="273" y="295" width="30" height="30" viewBox="273 295 30 30"><rect class="n" x="273" y="295" width="30" height="30"/><text class="t" x="288" y="309">ANIMA</text><text class="t" x="287" y="317">INN T</text></svg></g>
<g id="n-mmreal"><svg x="273" y="332" width="30" height="75" viewBox="273 332 30 75"><rect class="n" x="273" y="332" width="30" height="75"/><text class="t" x="288" y="346">MM</text><text class="t" x="288" y="358">REAL</text><text class="t" x="288" y="372">BLOOD</text><text class="t" x="288" y="391">BASALT</text><text class="t" x="288" y="399">DELTA</text></svg></g>
<g id="n-getting"><svg x="295" y="310" width="30" height="30" viewBox="295 310 30 30"><rect class="n" x="295" y="310" width="30" height="30"/><text class="t" x="310" y="318">GETTING</text><text class="t" x="310" y="326">MASK</text><text class="t" x="310" y="333">MAN</text><text class="t" x="310" y="340">WATER</text></svg></g>
<g id="n-hallway"><svg x="280" y="452" width="30" height="30" viewBox="280 452 30 30"><rect class="n" x="280" y="452" width="30" height="30"/><text class="t" x="295" y="462">HALLWAY</text><text class="t" x="295" y="470">Theatre</text><text class="t" x="295" y="478">Room</text></svg></g>
<g id="n-mall1"><svg x="415" y="362" width="30" height="30" viewBox="415 362 30 30"><rect class="n" x="415" y="362" width="30" height="30"/><text class="t" x="430" y="372">MM</text><text class="t" x="430" y="380">Abandone</text><text class="t" x="430" y="388">d mall</text></svg></g>
<g id="n-mall2"><svg x="415" y="407" width="30" height="30" viewBox="415 407 30 30"><rect class="n" x="415" y="407" width="30" height="30"/><text class="t" x="430" y="415">MM</text><text class="t" x="430" y="423">Abandone</text></svg></g>
<g id="n-nmm"><svg x="400" y="422" width="30" height="30" viewBox="400 422 30 30"><rect class="n" x="400" y="422" width="30" height="30"/><text class="t" x="415" y="430">N MM</text><text class="t" x="415" y="438">Abandone</text><text class="t" x="415" y="446">d mall</text><text class="t" x="415" y="453">KEY</text></svg></g>
<g id="n-ymm"><svg x="430" y="422" width="30" height="30" viewBox="430 422 30 30"><rect class="n" x="430" y="422" width="30" height="30"/><text class="t" x="445" y="430">Y MM</text><text class="t" x="445" y="438">Abandone</text><text class="t" x="445" y="446">d mall</text><text class="t" x="445" y="453">MAN</text></svg></g>
<g id="n-ms1"><svg x="415" y="440" width="30" height="30" viewBox="415 440 30 30"><rect class="n" x="415" y="440" width="30" height="30"/><text class="t" x="430" y="453">MM</text></svg></g>
<g id="n-ms2"><svg x="415" y="460" width="30" height="30" viewBox="415 460 30 30"><rect class="n" x="415" y="460" width="30" height="30"/><text class="t" x="430" y="469">MM</text><text class="t" x="430" y="476">Abandone</text><text class="t" x="430" y="484">d mall 5</text></svg></g>
<g id="n-mall6"><svg x="415" y="497" width="30" height="30" viewBox="415 497 30 30"><rect class="n" x="415" y="497" width="30" height="30"/><text class="t" x="430" y="507">MM</text><text class="t" x="430" y="514">Abandone</text><text class="t" x="430" y="522">d mall 6</text></svg></g>
<g id="n-drink"><svg x="377" y="505" width="30" height="30" viewBox="377 505 30 30"><rect class="n" x="377" y="505" width="30" height="30"/><text class="t" x="392" y="514">DRINK</text><text class="t" x="392" y="528">WANNA</text><text class="t" x="392" y="535">FILL CUP</text></svg></g>
<g id="n-dontfill"><svg x="362" y="535" width="30" height="30" viewBox="362 535 30 30"><rect class="n" x="362" y="535" width="30" height="30"/><text class="t" x="377" y="543">DON'T</text><text class="t" x="377" y="550">FILL CUP</text><text class="t" x="377" y="558">W/</text><text class="t" x="377" y="565">FOUNTAI</text></svg></g>
<g id="n-fillcup"><svg x="392" y="535" width="30" height="30" viewBox="392 535 30 30"><rect class="n" x="392" y="535" width="30" height="30"/><text class="t" x="407" y="543">FILL CUP</text><text class="t" x="407" y="550">W/</text><text class="t" x="407" y="558">FOUNTAI</text><text class="t" x="407" y="565">N WATER</text></svg></g>
<g id="n-ndrink"><svg x="452" y="505" width="30" height="30" viewBox="452 505 30 30"><rect class="n" x="452" y="505" width="30" height="30"/><text class="t" x="467" y="514">N DRINK</text><text class="t" x="467" y="528">N'Y</text><text class="t" x="467" y="535">WANNA</text></svg></g>
<g id="n-nydont"><svg x="437" y="535" width="30" height="30" viewBox="437 535 30 30"><rect class="n" x="437" y="535" width="30" height="30"/><text class="t" x="452" y="543">N'Y</text><text class="t" x="452" y="550">DON'T</text><text class="t" x="452" y="558">FILL CUP</text><text class="t" x="452" y="565">W/</text></svg></g>
<g id="n-nyfill"><svg x="467" y="535" width="30" height="30" viewBox="467 535 30 30"><rect class="n" x="467" y="535" width="30" height="30"/><text class="t" x="482" y="543">N'Y FILL</text><text class="t" x="482" y="550">CUP W/</text><text class="t" x="482" y="558">FOUNTAI</text><text class="t" x="482" y="565">N WATER</text></svg></g>
</svg>
